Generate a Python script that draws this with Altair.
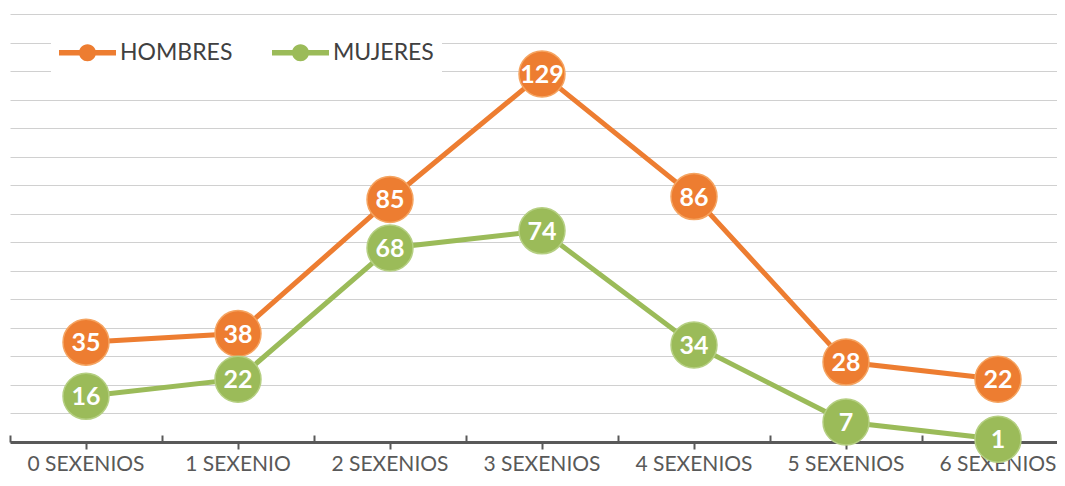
import altair as alt
import pandas as pd

categories = ["0 SEXENIOS", "1 SEXENIO", "2 SEXENIOS", "3 SEXENIOS",
              "4 SEXENIOS", "5 SEXENIOS", "6 SEXENIOS"]
hombres = [35, 38, 85, 129, 86, 28, 22]
mujeres = [16, 22, 68, 74, 34, 7, 1]
series = ["HOMBRES", "MUJERES"]
fill_colors = ["#ED7D31", "#9BBB59"]
edge_colors = ["#F5A461", "#B5CF82"]
grid_values = [0, 10, 20, 30, 40, 50, 60, 70, 80, 90, 100, 110, 120, 130, 140, 150]

rows = []
for c, h, m in zip(categories, hombres, mujeres):
    rows.append({"cat": c, "serie": series[0], "valor": h})
    rows.append({"cat": c, "serie": series[1], "valor": m})
df = pd.DataFrame(rows)
df["serie_linea"] = df["serie"]
df["serie_borde"] = df["serie"]

FONT = "Lato"
legend_path = ("M-1,-0.1 L1,-0.1 L1,0.1 L-1,0.1 Z "
               "M0.3,0 C0.3,0.1657 0.1657,0.3 0,0.3 "
               "C-0.1657,0.3 -0.3,0.1657 -0.3,0 "
               "C-0.3,-0.1657 -0.1657,-0.3 0,-0.3 "
               "C0.1657,-0.3 0.3,-0.1657 0.3,0 Z")


def make_legend():
    return alt.Legend(orient="none", legendX=41, legendY=2,
                      direction="horizontal", title=None,
                      symbolType=legend_path, symbolSize=3249,
                      symbolStrokeWidth=0, labelFont=FONT,
                      labelFontSize=23, labelColor="#404040",
                      labelOffset=4, columnPadding=39,
                      fillColor="white", padding=8)


xscale = alt.Scale(type="band", domain=categories, range=[0, 1064],
                   paddingInner=0, paddingOuter=0)
yscale = alt.Scale(domain=[0, 150], nice=False, zero=True)

x_main = alt.X("cat:N", sort=categories, scale=xscale,
               axis=alt.Axis(title=None, labelAngle=0, labelFont=FONT,
                             labelFontSize=21, labelColor="#595959",
                             labelPadding=4, labelOverlap=False,
                             domainColor="#595959", domainWidth=3,
                             tickColor="#595959", tickWidth=2, tickSize=7,
                             grid=False))
y_axis = alt.Axis(title=None, labels=False, ticks=False,
                  domain=False, grid=True, values=grid_values,
                  gridColor="#d0d0d0", gridWidth=1)
y_main = alt.Y("valor:Q", scale=yscale, axis=y_axis)

base = alt.Chart(df)

lines = base.mark_line(strokeWidth=5).encode(
    x=x_main, y=y_main,
    color=alt.Color("serie_linea:N",
                    scale=alt.Scale(domain=series, range=fill_colors),
                    legend=make_legend()),
)

points = base.mark_point(filled=True, size=2116, strokeWidth=1.5, opacity=1).encode(
    x=x_main, y=y_main,
    fill=alt.Fill("serie:N", scale=alt.Scale(domain=series, range=fill_colors),
                  legend=make_legend()),
    stroke=alt.Stroke("serie_borde:N",
                      scale=alt.Scale(domain=series, range=edge_colors),
                      legend=make_legend()),
)

labels = base.mark_text(font=FONT, fontSize=25, fontWeight="bold",
                        color="white", align="center", baseline="middle",
                        dy=1).encode(
    x=x_main, y=y_main, text="valor:Q",
)

main = alt.layer(lines, points, labels)

x_ticks = alt.X("cat:N", sort=categories, scale=xscale,
                axis=alt.Axis(title=None, orient="top", offset=-428,
                              labels=False, domain=False, grid=False,
                              tickBand="extent", tickSize=7, tickWidth=2,
                              tickColor="#595959"))
tick_layer = base.mark_point(opacity=0).encode(
    x=x_ticks, y=y_main,
)

chart = alt.layer(main, tick_layer).resolve_axis(
    x="independent"
).properties(
    width=1047, height=428,
    padding={"left": 2, "top": 6, "right": 0, "bottom": 36},
    autosize=alt.AutoSizeParams(type="none"),
).configure_view(stroke=None)

chart.save("out.html", embed_options={"renderer": "svg", "actions": False})
